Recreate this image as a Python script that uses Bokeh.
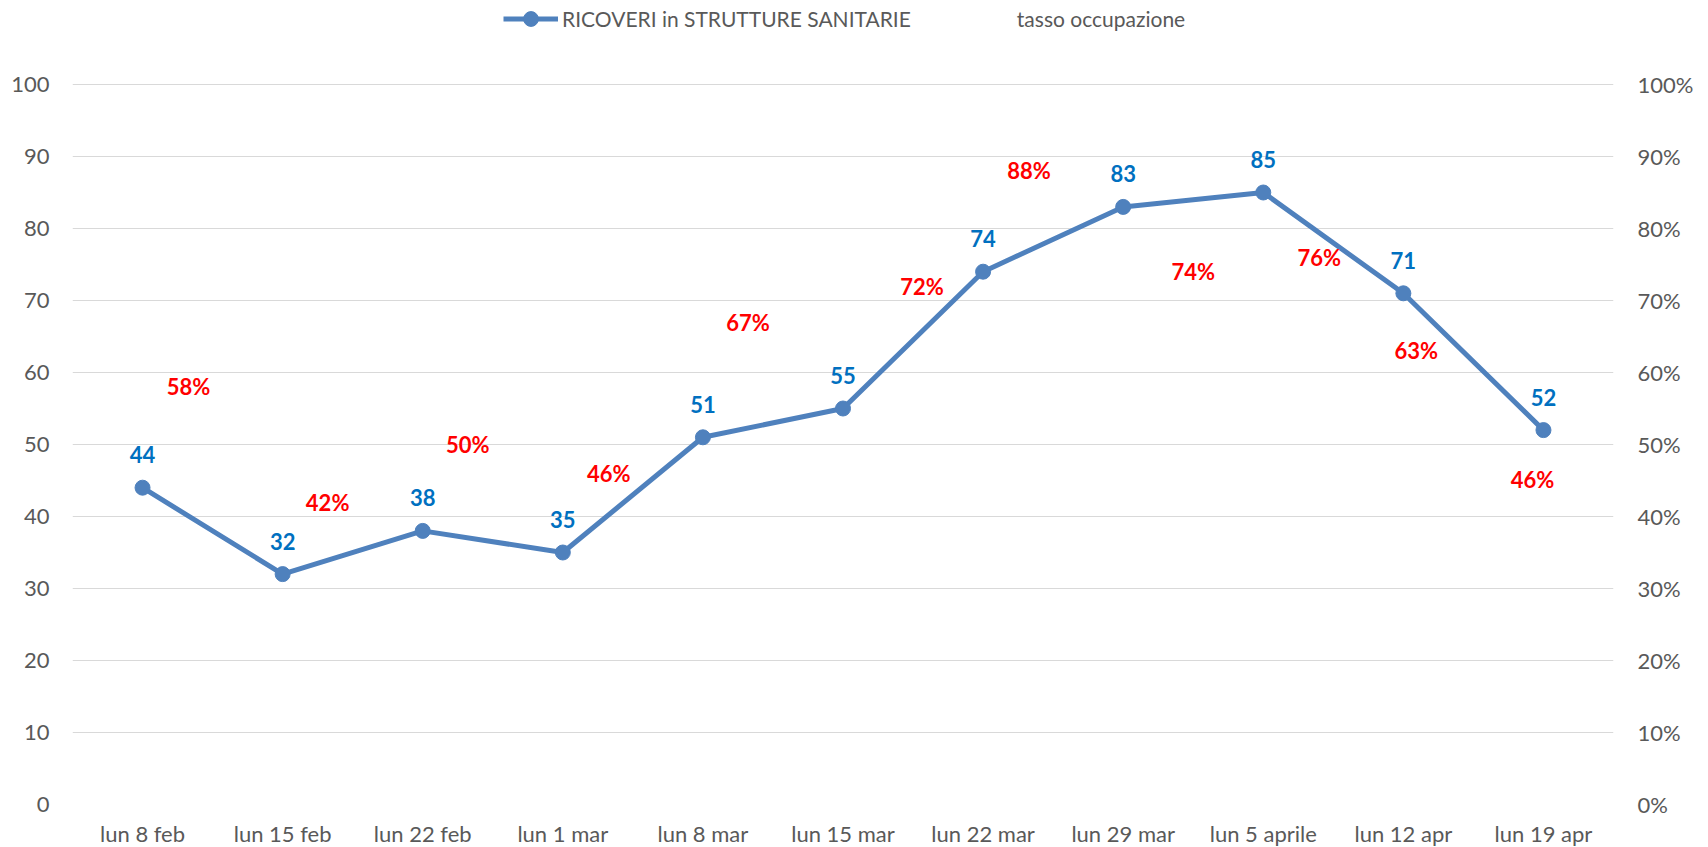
from bokeh.plotting import figure
from bokeh.models import (ColumnDataSource, FactorRange, Range1d, LinearAxis, FixedTicker,
                          NumeralTickFormatter, Legend, LegendItem)
from bokeh.core.properties import value
from bokeh.embed import file_html
from bokeh.resources import INLINE

categories = ["lun 8 feb", "lun 15 feb", "lun 22 feb", "lun 1 mar", "lun 8 mar", "lun 15 mar",
              "lun 22 mar", "lun 29 mar", "lun 5 aprile", "lun 12 apr", "lun 19 apr"]
ricoveri = [44, 32, 38, 35, 51, 55, 74, 83, 85, 71, 52]
tasso = [0.58, 0.42, 0.50, 0.46, 0.67, 0.72, 0.88, 0.74, 0.76, 0.63, 0.46]
# label placement offsets (pixels) for the occupancy labels, as moved in the original
tasso_dx = [46, 45, 45, 46, 45, 79, 46, 70, 56, 13, -11]
tasso_dy = [0, 0, 0, 0, 0, 0, 0, 0, 0, 0, 6]
left_ticks = [0, 10, 20, 30, 40, 50, 60, 70, 80, 90, 100]
right_ticks = [0, 0.1, 0.2, 0.3, 0.4, 0.5, 0.6, 0.7, 0.8, 0.9, 1.0]

FONT = "Lato"
GREY = "#595959"
LINE = "#4f81bd"

# plot area: 720 px for the 0..100 scale, plus 84 px of headroom holding the legend
AXIS_PX = 720
HEAD_PX = 84
EXT = (AXIS_PX + HEAD_PX) / AXIS_PX

src = ColumnDataSource(dict(
    cat=categories,
    ricoveri=ricoveri,
    ric_lbl=[str(v) for v in ricoveri],
    tasso=tasso,
    tasso_lbl=[f"{round(v * 100)}%" for v in tasso],
    dx=tasso_dx,
    dy=tasso_dy,
))

p = figure(x_range=FactorRange(factors=categories), y_range=Range1d(0, 100 * EXT),
           frame_width=1541, frame_height=AXIS_PX + HEAD_PX, output_backend="svg",
           toolbar_location=None,
           min_border_left=72, min_border_right=95, min_border_top=0, min_border_bottom=43)
p.extra_y_ranges = {"pct": Range1d(0, 1 * EXT)}
p.outline_line_color = None
p.background_fill_color = "white"
p.border_fill_color = "white"

p.xgrid.visible = False
p.ygrid.grid_line_color = "#d9d9d9"
p.ygrid.grid_line_width = 1
p.yaxis.ticker = FixedTicker(ticks=left_ticks)

right = LinearAxis(y_range_name="pct", ticker=FixedTicker(ticks=right_ticks),
                   formatter=NumeralTickFormatter(format="0%"))
p.add_layout(right, "right")

for ax in [p.xaxis[0], p.yaxis[0], right]:
    ax.axis_line_color = None
    ax.major_tick_line_color = None
    ax.minor_tick_line_color = None
    ax.major_tick_out = 0
    ax.major_tick_in = 0
    ax.minor_tick_out = 0
    ax.minor_tick_in = 0
    ax.major_label_text_color = GREY
    ax.major_label_text_font = FONT
    ax.major_label_text_font_size = "22px"
p.yaxis[0].major_label_standoff = 23
right.major_label_standoff = 24
p.xaxis[0].major_label_standoff = 15

line_r = p.line(x="cat", y="ricoveri", source=src, line_color=LINE, line_width=5)
dot_r = p.scatter(x="cat", y="ricoveri", source=src, size=15, fill_color=LINE, line_color=LINE)

p.text(x="cat", y="ricoveri", text="ric_lbl", source=src, y_offset=-33,
       text_align="center", text_baseline="middle", text_color="#0070c0",
       text_font=value(FONT), text_font_style="bold", text_font_size="22px")

pct_r = p.text(x="cat", y="tasso", text="tasso_lbl", source=src, y_range_name="pct",
               x_offset="dx", y_offset="dy",
               text_align="center", text_baseline="middle", text_color="#ff0000",
               text_font=value(FONT), text_font_style="bold", text_font_size="22px")

legend = Legend(items=[
    LegendItem(label="RICOVERI in STRUTTURE SANITARIE", renderers=[line_r, dot_r]),
    LegendItem(label="tasso occupazione", renderers=[pct_r]),
], orientation="horizontal", location=(431, 767))
legend.padding = 0
legend.margin = 0
legend.spacing = 47
legend.glyph_width = 55
legend.glyph_height = 37
legend.label_standoff = 4
legend.label_text_font = FONT
legend.label_text_font_size = "21px"
legend.label_text_color = GREY
legend.border_line_color = None
legend.background_fill_alpha = 0
p.add_layout(legend, "center")

open("out.html", "w").write(file_html(p, INLINE))
